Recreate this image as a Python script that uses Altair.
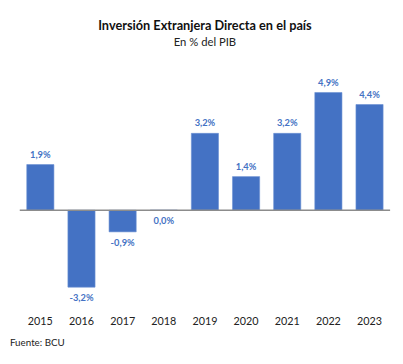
import altair as alt
import pandas as pd

years = ["2015", "2016", "2017", "2018", "2019", "2020", "2021", "2022", "2023"]
values = [1.9, -3.2, -0.9, 0.0, 3.2, 1.4, 3.2, 4.9, 4.4]
labels = [f"{v:.1f}".replace(".", ",") + "%" for v in values]

df = pd.DataFrame({"year": years, "value": values, "label": labels})

FONT = "Lato"
BLUE = "#4472C4"

x = alt.X("year:N", sort=years, title=None,
          scale=alt.Scale(paddingInner=0.34, paddingOuter=0.17),
          axis=alt.Axis(domain=False, ticks=False, labelAngle=0, labelPadding=10,
                        labelFontSize=11, labelColor="#222222", labelFont=FONT))
y = alt.Y("value:Q", title=None, scale=alt.Scale(domain=[-4, 5.5], nice=False),
          axis=None)

base = alt.Chart(df)

bars = base.mark_bar(color=BLUE, stroke="#6a8fd3", strokeWidth=0.6).encode(x=x, y=y, y2=alt.datum(0))

pos = base.transform_filter("datum.value > 0").mark_text(
    dy=-10, fontSize=9.5, fontWeight="bold", color=BLUE, font=FONT
).encode(x=x, y=y, text="label:N")

neg = base.transform_filter("datum.value <= 0").mark_text(
    dy=11, fontSize=9.5, fontWeight="bold", color=BLUE, font=FONT
).encode(x=x, y=y, text="label:N")

zero = alt.Chart(pd.DataFrame({"z": [0]})).mark_rule(color="#8c8c8c", strokeWidth=1.5).encode(
    y=alt.Y("z:Q", scale=alt.Scale(domain=[-4, 5.5], nice=False), axis=None)
)

source = alt.Chart(pd.DataFrame({"t": ["Fuente: BCU"]})).mark_text(
    align="left", baseline="middle", fontSize=10, color="#222222", font=FONT
).encode(x=alt.value(-10), y=alt.value(270), text="t:N")

chart = alt.layer(bars, zero, pos, neg, source).properties(
    width=378, height=233,
    title=alt.TitleParams(
        "Inversión Extranjera Directa en el país",
        subtitle="En % del PIB",
        font=FONT, fontSize=13, fontWeight="bold", color="#111111",
        subtitleFont=FONT, subtitleFontSize=11.5, subtitleColor="#222222",
        anchor="middle", offset=30, subtitlePadding=4,
    ),
    autosize=alt.AutoSizeParams(type="none"),
    padding={"left": 12, "top": 68, "right": 5, "bottom": 40},
).configure_view(stroke=None)

chart.save("out.html", embed_options={"renderer": "svg", "actions": False})
